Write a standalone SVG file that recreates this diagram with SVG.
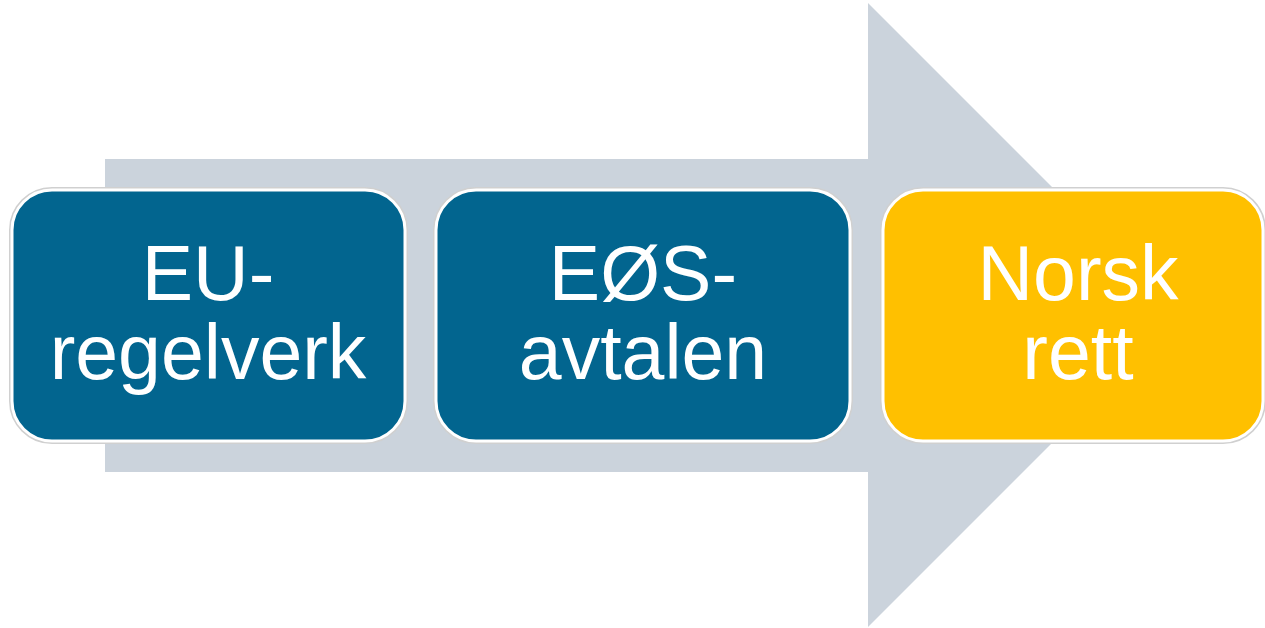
<svg xmlns="http://www.w3.org/2000/svg" width="1265" height="628" viewBox="0 0 1265 628">
<style>
.box{stroke:#ffffff;stroke-width:3}
.halo{fill:none;stroke:#d0d0d0;stroke-width:6}
.lbl{font-family:"Liberation Sans",Arial,sans-serif;font-size:77px;fill:#ffffff;text-anchor:middle}
</style>
<rect width="1265" height="628" fill="#ffffff"/>
<g id="connectors">
<path d="M105 159 H868 V3 L1180 315 L868 627 V472 H105 Z" fill="#cbd3dc"/>
</g>
<g id="node-eu">
<rect class="halo" x="12" y="190" width="393" height="251" rx="40"/>
<rect class="box" x="12" y="190" width="393" height="251" rx="40" fill="#02658f"/>
<text class="lbl" x="208" y="300">EU-</text>
<text class="lbl" x="208" y="379">regelverk</text>
</g>
<g id="node-eos">
<rect class="halo" x="436" y="190" width="414" height="251" rx="40"/>
<rect class="box" x="436" y="190" width="414" height="251" rx="40" fill="#02658f"/>
<text class="lbl" x="643" y="300">EØS-</text>
<text class="lbl" x="643" y="379">avtalen</text>
</g>
<g id="node-norsk">
<rect class="halo" x="883" y="190" width="380" height="251" rx="40"/>
<rect class="box" x="883" y="190" width="380" height="251" rx="40" fill="#ffc000"/>
<text class="lbl" x="1078" y="300">Norsk</text>
<text class="lbl" x="1078" y="379">rett</text>
</g>
</svg>
